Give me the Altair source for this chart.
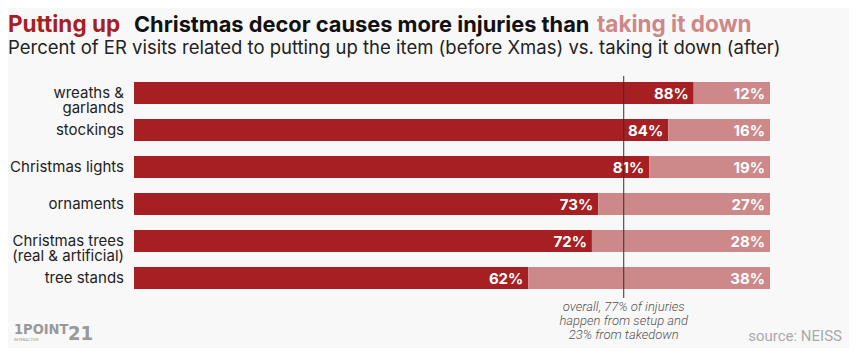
import altair as alt
import pandas as pd

categories = ["wreaths &\ngarlands", "stockings", "Christmas lights", "ornaments",
              "Christmas trees\n(real & artificial)", "tree stands"]
setup = [88, 84, 81, 73, 72, 62]
takedown = [12, 16, 19, 27, 28, 38]
overall_setup = 77

title_red = "Putting up"
title_black = "Christmas decor causes more injuries than"
title_pink = "taking it down"
subtitle = "Percent of ER visits related to putting up the item (before Xmas) vs. taking it down (after)"
note = "overall, 77% of injuries\nhappen from setup and\n23% from takedown"
source = "source: NEISS"

DARK = "#a61f22"
LIGHT = "#cd8889"
BG = "#f8f8f8"
TFONT = "Inter, Roboto"

rows = []
for c, s, t in zip(categories, setup, takedown):
    rows.append({"cat": c, "part": "setup", "start": 0, "end": s, "label": f"{s}%"})
    rows.append({"cat": c, "part": "takedown", "start": s, "end": s + t, "label": f"{t}%"})
df = pd.DataFrame(rows)

xscale = alt.Scale(domain=[0, 100], range=[126, 762])
yscale = alt.Scale(domain=categories, range=[66.5, 288.5], paddingInner=0.405, paddingOuter=0.2027)

base = alt.Chart(df)

bars = base.mark_bar(cornerRadius=0).encode(
    x=alt.X("start:Q", scale=xscale, axis=None),
    x2="end:Q",
    y=alt.Y("cat:N", scale=yscale, axis=None, sort=categories),
    color=alt.Color("part:N", scale=alt.Scale(domain=["setup", "takedown"], range=[DARK, LIGHT]), legend=None),
)

pct = base.mark_text(align="right", baseline="middle", dx=-5, dy=1, font="Inter",
                     fontSize=15, fontWeight="bold", color="white").encode(
    x=alt.X("end:Q", scale=xscale),
    y=alt.Y("cat:N", scale=yscale, sort=categories),
    text="label:N",
)

cat_df = pd.DataFrame({"cat": categories})
cat_labels = alt.Chart(cat_df).mark_text(align="right", baseline="middle", lineBreak="\n",
                                         font="Inter", fontSize=15, lineHeight=15, color="#222").encode(
    x=alt.value(116),
    y=alt.Y("cat:N", scale=yscale, sort=categories),
    text="cat:N",
)

rule_df = pd.DataFrame({"v": [overall_setup]})
rule = alt.Chart(rule_df).mark_rule(color="#333", strokeWidth=1).encode(
    x=alt.X("v:Q", scale=xscale),
    y=alt.value(68),
    y2=alt.value(290),
)

note_df = pd.DataFrame({"v": [overall_setup], "t": [note]})
note_text = alt.Chart(note_df).mark_text(align="center", baseline="top", lineBreak="\n",
                                         font="Roboto", fontStyle="italic", fontSize=13,
                                         fontWeight=300, lineHeight=14, color="#555", dx=0).encode(
    x=alt.X("v:Q", scale=xscale),
    y=alt.value(293),
    text="t:N",
)


def const_text(txt, x, y, **kw):
    return alt.Chart(pd.DataFrame({"t": [txt]})).mark_text(**kw).encode(
        x=alt.value(x), y=alt.value(y), text="t:N")


t_red = const_text(title_red, 0, 23.5, align="left", baseline="alphabetic", font=TFONT,
                   fontSize=22.5, fontWeight="bold", color=DARK)
t_black = const_text(title_black, 126, 23.5, align="left", baseline="alphabetic", font=TFONT,
                     fontSize=21.8, fontWeight="bold", color="#111")
t_pink = const_text(title_pink, 589, 23.5, align="left", baseline="alphabetic", font=TFONT,
                    fontSize=22.5, fontWeight="bold", color=LIGHT)
sub = const_text(subtitle, 0, 45.5, align="left", baseline="alphabetic", font=TFONT,
                 fontSize=18.5, color="#222")
src = const_text(source, 834, 333, align="right", baseline="alphabetic", font="Roboto",
                 fontSize=15, color="#aaa")
logo1 = const_text("1POINT", 6, 326, align="left", baseline="alphabetic",
                   font="DejaVu Sans Condensed, Roboto", fontSize=14.5, fontWeight="bold", color="#999")
logo2 = const_text("21", 60, 332, align="left", baseline="alphabetic",
                   font="DejaVu Sans Condensed, Roboto", fontSize=20, fontWeight="bold", color="#999")
logo3 = const_text("INTERACTIVE", 6, 333, align="left", baseline="alphabetic", font="Roboto",
                   fontSize=4, color="#999")

chart = alt.layer(
    bars, pct, cat_labels, rule, note_text,
    t_red, t_black, t_pink, sub, src, logo1, logo2, logo3,
).properties(
    width=841, height=340, background=BG, padding=0,
    autosize=alt.AutoSizeParams(type="none"),
).configure_view(stroke=None)

chart.save("out.html", embed_options={"renderer": "svg", "actions": False})
